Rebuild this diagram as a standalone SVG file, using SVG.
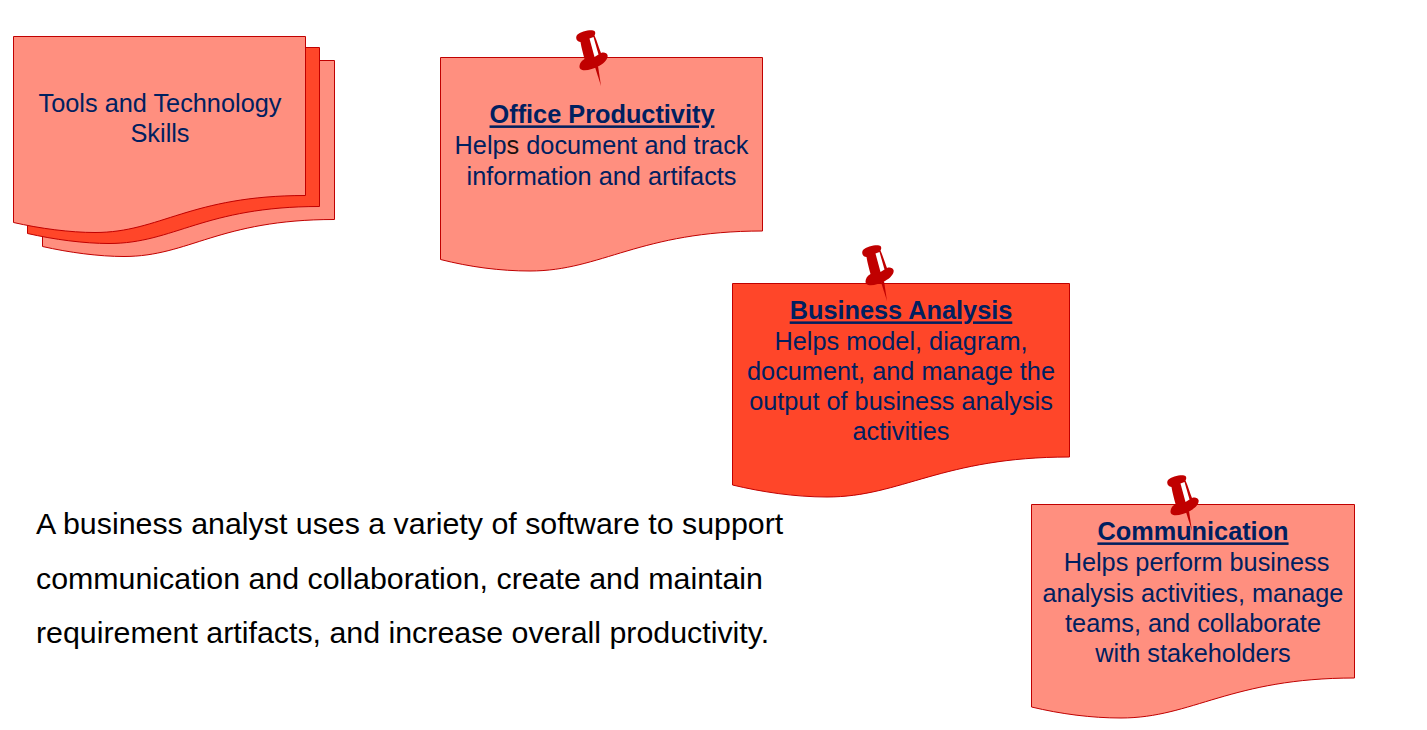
<svg xmlns="http://www.w3.org/2000/svg" width="1427" height="730" viewBox="0 0 1427 730">
<style>
text{font-family:"Liberation Sans",Arial,sans-serif;fill:#002060;text-anchor:middle;font-size:25.300px}
.doc{stroke:#c00000;stroke-width:1}
.light{fill:#ff8f7f}
.dark{fill:#ff4629}
.h{font-weight:bold;text-decoration:underline}
.body{fill:#000;text-anchor:start;font-size:30.350px}
</style>
<defs>
<symbol id="pin" overflow="visible" viewBox="0 0 70 75" width="70" height="75">
<path fill="#c00000" d="M35 47 L38 46 L41 66 Z"/>
<path fill="#c00000" d="M20.500 22 C21.500 28 23.500 35 24.500 39 C20.500 41 18.500 46 20 48.500 C22 52 32 50 39 46 C45 43 48.500 38 47.500 35 C47 33 44 32 41 33 C39 28 37 21 34.500 15.500 C35.500 14 35.500 12 34.500 11 C32 9 21 11 17 15 C15 18 17 22 20.500 22 Z"/>
<path fill="#fff" d="M29.500 18.500 L33.500 17 L38.500 34.500 L34.500 37 Z"/>
</symbol>
</defs>
<g id="connectors"></g>
<g id="stack-back"><path class="doc light" d="M42.500 60.500H334.500V219.500C219 219.500 189 256.500 124 256.500C99 256.500 69 252.500 42.500 246.500Z"/></g>
<g id="stack-middle"><path class="doc dark" d="M27.500 47.500H319.500V206.500C204 206.500 174 243.500 109 243.500C84 243.500 54 239.500 27.500 233.500Z"/></g>
<g id="tools-skills"><path class="doc light" d="M13.500 36.500H305.500V195.500C190 195.500 160 232.500 95 232.500C70 232.500 40 228.500 13.500 222.500Z"/>
<text x="160" y="111.600">Tools and Technology</text><text x="160" y="141.600">Skills</text></g>
<g id="office-productivity"><path class="doc light" d="M440.500 57.500H762.500V231C640 231 601 271 530 271C500 271 470 267 440.500 259.500Z"/>
<text class="h" x="602" y="123.400">Office Productivity</text>
<text x="601.500" y="153.600">Help<tspan fill="#1a1010">s</tspan> document and track</text>
<text x="601.500" y="184.600">information and artifacts</text>
<use href="#pin" x="560" y="20"/></g>
<g id="business-analysis"><path class="doc dark" d="M732.500 283.500H1069.500V457C942 457 901 497 827 497C795 497 762 492 732.500 485Z"/>
<text class="h" x="901" y="319.400">Business Analysis</text>
<text x="901" y="349.600">Helps model, diagram,</text>
<text x="901" y="379.600">document, and manage the</text>
<text x="901" y="410">output of business analysis</text>
<text x="901" y="440">activities</text>
<use href="#pin" x="846" y="235"/></g>
<g id="communication"><path class="doc light" d="M1031.500 504.500H1354.500V678C1231 678 1192 718 1121 718C1091 718 1061 714 1031.500 707Z"/>
<text class="h" x="1193" y="540.400">Communication</text>
<text x="1196.500" y="570.600">Helps perform business</text>
<text x="1193" y="601.600">analysis activities, manage</text>
<text x="1193" y="631.600">teams, and collaborate</text>
<text x="1193" y="661.600">with stakeholders</text>
<use href="#pin" x="1151" y="465"/></g>
<g id="summary">
<text class="body" x="36" y="534">A business analyst uses a variety of software to support</text>
<text class="body" x="36" y="589">communication and collaboration, create and maintain</text>
<text class="body" x="36" y="643">requirement artifacts, and increase overall productivity.</text>
</g>
</svg>
